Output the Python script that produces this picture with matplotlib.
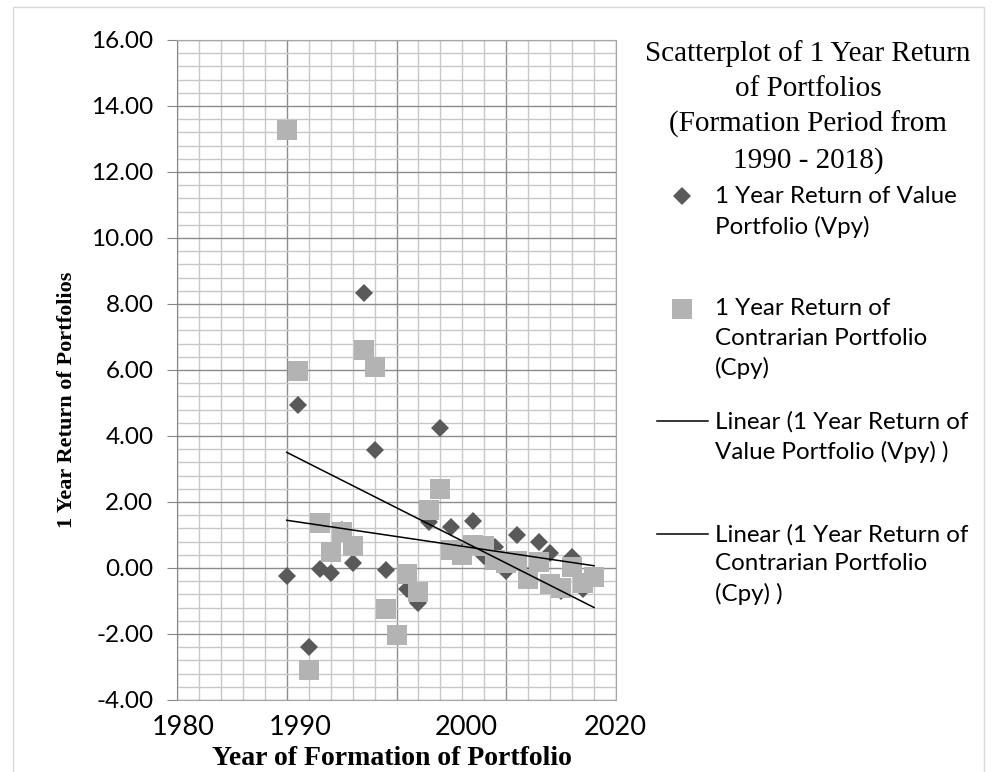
import numpy as np
import matplotlib.pyplot as plt
from matplotlib.ticker import MultipleLocator, FormatStrFormatter
from matplotlib.patches import Rectangle

# formation years and 1 year returns
years = np.arange(1990, 2019)
vpy = [-0.23, 4.93, -2.40, -0.03, -0.15, 1.15, 0.15, 8.33, 3.58, -0.05,
       -2.00, -0.65, -1.05, 1.40, 4.25, 1.25, 0.50, 1.42, 0.35, 0.65,
       -0.10, 0.99, -0.25, 0.78, 0.45, -0.70, 0.32, -0.63, -0.30]
cpy = [13.26, 5.98, -3.08, 1.35, 0.47, 1.10, 0.66, 6.60, 6.10, -1.25,
       -2.03, -0.17, -0.73, 1.75, 2.40, 0.55, 0.40, 0.70, 0.67, 0.25,
       0.15, 0.22, -0.33, 0.18, -0.47, -0.60, 0.04, -0.44, -0.27]

# the x labels sit off their gridlines in the original
x_tick_text = ["1980", "1990", "2000", "2020"]
x_tick_at = [1980.6, 1991.2, 2006.4, 2019.9]

title = "Scatterplot of 1 Year Return\nof Portfolios\n(Formation Period from\n1990 - 2018)"
labels = ["1 Year Return of Value\nPortfolio (Vpy)\n ",
          "1 Year Return of\nContrarian Portfolio\n(Cpy)",
          "Linear (1 Year Return of\nValue Portfolio (Vpy) )\n ",
          "Linear (1 Year Return of\nContrarian Portfolio\n(Cpy) )"]

plt.rcParams['font.family'] = ['Lato', 'DejaVu Sans']

fig = plt.figure(figsize=(9.94, 7.72), dpi=100)
ax = fig.add_axes([177/994, 72/772, 439/994, 660/772])

h1, = ax.plot(years, vpy, 'D', color='#595959', ms=9.5, mew=0, zorder=3)
h2, = ax.plot(years, cpy, 's', color='#b3b3b3', ms=14, mew=0, zorder=4)
trend = []
for y in (vpy, cpy):
    k, b = np.polyfit(years, y, 1)
    ends = years[[0, -1]]
    ln, = ax.plot(ends, k*ends + b, color='black', lw=1.1, zorder=5)
    trend.append(ln)

ax.set_xlim(1980, 2020)
ax.set_ylim(-4, 16)
ax.xaxis.set_major_locator(MultipleLocator(10))
ax.xaxis.set_minor_locator(MultipleLocator(2))
ax.yaxis.set_major_locator(MultipleLocator(2))
ax.yaxis.set_minor_locator(MultipleLocator(0.4))
ax.yaxis.set_major_formatter(FormatStrFormatter('%.2f'))
ax.grid(True, which='minor', color='#c8c8c8', lw=1)
ax.grid(True, which='major', color='#8c8c8c', lw=1)
for s in ax.spines.values():
    s.set_color('#a6a6a6')
ax.spines['left'].set_color('#868686')

ax.tick_params(axis='x', which='both', length=0, labelbottom=False)
ax.tick_params(axis='y', which='major', length=7, color='#868686', pad=10, labelsize=17.5)
ax.tick_params(axis='y', which='minor', length=0)
for t, xv in zip(x_tick_text, x_tick_at):
    ax.text(xv, -0.041, t, transform=ax.get_xaxis_transform(), ha='center', va='center', fontsize=19.5)

ax.set_ylabel('1 Year Return of Portfolios', family='Liberation Serif', weight='bold', fontsize=16, va='center')
ax.yaxis.set_label_coords(-0.25, 0.4545)
ax.set_xlabel('Year of Formation of Portfolio', family='Liberation Serif', weight='bold', fontsize=20, va='center')
ax.xaxis.set_label_coords(0.49, -0.088)

fig.text(808/994, 1 - 107/772, title, ha='center', va='center', family='Liberation Serif', fontsize=21, linespacing=1.42)

leg = ax.legend([h1, h2] + trend, labels, loc='upper left', bbox_to_anchor=(657/994, 1 - 186/772),
                bbox_transform=fig.transFigure, frameon=False, fontsize=17.4, handlelength=2.1,
                handleheight=1.2, handletextpad=0.29, labelspacing=1.3, borderpad=0, borderaxespad=0)
for t in leg.get_texts():
    t.set_linespacing(1.48)
for col in leg._legend_handle_box.get_children():
    for row in col.get_children():
        row.align = 'top'

fig.add_artist(Rectangle((13/994, -0.01), (984-13)/994, 1.01 - 7/772, transform=fig.transFigure,
                         fill=False, edgecolor='#d9d9d9', lw=1))

fig.savefig('out.png', dpi=100)
